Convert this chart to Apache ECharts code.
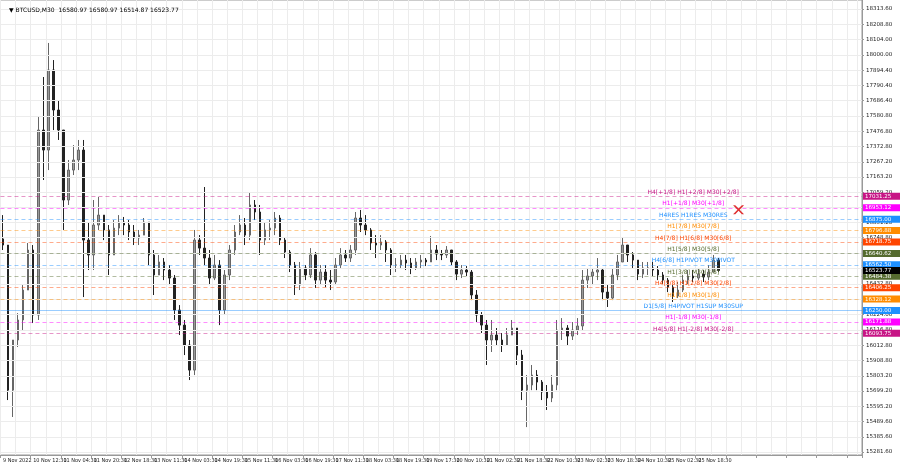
<!DOCTYPE html>
<html><head><meta charset="utf-8">
<script src="https://cdn.jsdelivr.net/npm/echarts@6/dist/echarts.min.js"></script>
<style>html,body{margin:0;padding:0;background:#fff}#c{width:900px;height:468px}</style>
</head><body><div id="c"></div>
<script>
const xLabels = ["9 Nov 2022","10 Nov 12:30","11 Nov 04:30","11 Nov 20:30","12 Nov 18:30","13 Nov 11:30","14 Nov 03:30","14 Nov 19:30","15 Nov 11:30","16 Nov 03:30","16 Nov 19:30","17 Nov 11:30","18 Nov 03:30","18 Nov 19:30","19 Nov 17:30","20 Nov 10:30","21 Nov 02:30","21 Nov 18:30","22 Nov 10:30","23 Nov 02:30","23 Nov 18:30","24 Nov 10:30","25 Nov 02:30","25 Nov 18:30"];
const yTicks = [18313.60,18208.80,18104.00,18000.00,17894.40,17790.40,17686.40,17580.80,17476.80,17372.80,17267.20,17163.20,17059.20,16955.20,16851.20,16748.80,16643.20,16539.20,16432.80,16328.80,16224.00,16116.80,16012.80,15908.80,15803.20,15699.20,15595.20,15489.60,15385.60,15281.60];
const firstOpen = 16740;
const high = [16903,16698,15705,16232,16424,16712,16698,17574,17848,18081,17964,17690,17485,17280,17382,17417,17417,16849,17006,17027,16903,16835,16869,16903,16890,16869,16835,16801,16883,16855,16664,16630,16609,16561,16493,16287,16185,16048,16801,16766,17095,16664,16630,16595,16527,16698,16835,16903,16883,17054,17006,16972,16855,16869,16924,16903,16746,16664,16582,16582,16561,16677,16650,16561,16561,16527,16609,16677,16664,16698,16924,16938,16903,16814,16766,16766,16732,16677,16609,16630,16630,16609,16609,16630,16609,16760,16698,16664,16691,16664,16595,16561,16554,16527,16390,16239,16185,16185,16130,16096,16130,16185,16130,15980,15808,15877,15842,15774,15740,15808,16185,16198,16150,16171,16198,16527,16541,16541,16609,16541,16424,16541,16630,16746,16698,16650,16595,16582,16582,16582,16554,16513,16472,16424,16445,16493,16527,16527,16541,16527,16561,16630,16609];
const low = [16664,15637,15521,16000,16116,16390,16164,16185,17143,17211,17485,17417,16801,16972,17177,17211,16342,16527,16527,16801,16732,16493,16630,16766,16766,16732,16698,16698,16766,16561,16356,16493,16458,16424,16185,16082,15945,15774,15808,16630,16561,16424,16458,16150,16219,16458,16630,16766,16698,16732,16869,16630,16698,16732,16766,16698,16609,16513,16356,16390,16458,16472,16404,16424,16410,16390,16424,16541,16582,16582,16630,16787,16766,16664,16609,16664,16582,16493,16513,16541,16527,16499,16527,16541,16554,16582,16595,16595,16609,16561,16458,16472,16486,16321,16171,16096,15877,15966,16013,15966,16013,16082,15877,15637,15452,15705,15705,15637,15569,15623,15705,16048,16013,16048,16082,16116,16404,16424,16458,16321,16274,16321,16458,16582,16582,16541,16458,16472,16493,16486,16458,16424,16376,16308,16335,16376,16431,16445,16458,16445,16458,16513,16513];
const close = [16698,15705,16048,16185,16390,16664,16219,17485,17348,17896,17622,17485,17006,17211,17280,17348,16732,16630,16835,16903,16801,16630,16814,16855,16835,16787,16746,16766,16855,16630,16493,16582,16527,16472,16253,16150,16013,15842,16732,16677,16609,16472,16561,16253,16493,16664,16787,16835,16766,16972,16924,16732,16801,16814,16883,16732,16650,16561,16424,16541,16493,16630,16458,16513,16458,16445,16561,16630,16609,16664,16883,16835,16801,16712,16698,16719,16664,16561,16561,16595,16575,16541,16582,16595,16582,16664,16636,16630,16664,16582,16499,16527,16513,16356,16219,16150,16048,16082,16048,16013,16082,16130,15945,15705,15740,15808,15760,15692,15651,15740,16116,16130,16075,16116,16144,16458,16486,16513,16527,16376,16335,16493,16582,16698,16630,16595,16499,16541,16541,16527,16493,16458,16410,16349,16390,16458,16486,16472,16499,16479,16513,16595,16523.77];
const levelValues = [17031.25,16953.12,16875.00,16796.88,16718.75,16640.62,16562.50,16484.38,16406.25,16328.12,16250.00,16171.88,16093.75];
const levelTexts = ["H4[+1/8] H1[+2/8] M30[+2/8]","H1[+1/8] M30[+1/8]","H4RES H1RES M30RES","H1[7/8] M30[7/8]","H4[7/8] H1[6/8] M30[6/8]","H1[5/8] M30[5/8]","H4[6/8] H1PIVOT M30PIVOT","H1[3/8] M30[3/8]","H4[5/8] H1[2/8] M30[2/8]","H1[1/8] M30[1/8]","D1[5/8] H4PIVOT H1SUP M30SUP","H1[-1/8] M30[-1/8]","H4[5/8] H1[-2/8] M30[-2/8]"];
const levelColors = ["#C71585","#FF00FF","#1E90FF","#FF8C00","#FF4500","#556B2F","#1E90FF","#556B2F","#FF4500","#FF8C00","#1E90FF","#FF00FF","#C71585"];
const lastPrice = 16523.77;
const header = "▼ BTCUSD,M30  16580.97 16580.97 16514.87 16523.77";

function fade(hex,a){const n=parseInt(hex.slice(1),16);return `rgba(${n>>16},${(n>>8)&255},${n&255},${a})`;}
const N = 171;
const cats = Array.from({length:N},(_,i)=>String(i));
const ohlc = close.map((c,i)=>{
  const o = i===0?firstOpen:close[i-1];
  return [o,c,Math.min(low[i],o,c),Math.max(high[i],o,c)];
});
const FF = 'DejaVu Sans';
const NF = '"Liberation Sans Narrow","DejaVu Sans Condensed","Liberation Sans",sans-serif';
const chart = echarts.init(document.getElementById('c'));
const priceLabel = (txt,bg)=>({show:true,position:'end',distance:1,formatter:txt,color:'#fff',backgroundColor:bg,padding:[1,2,0,2],fontSize:5.5,fontFamily:FF,width:33});
const lvlLines = levelValues.map((v,i)=>({
  yAxis:v,
  lineStyle:{color:fade(levelColors[i],0.45),type:i===10?'solid':[4,3],width:1},
  label:priceLabel(v.toFixed(2),levelColors[i])
}));
lvlLines.push({yAxis:lastPrice,lineStyle:{color:'rgba(0,0,0,0)',width:0},label:priceLabel(lastPrice.toFixed(2),'#000')});
const textLines = levelValues.map((v,i)=>[
  {coord:['131',v],lineStyle:{color:'rgba(0,0,0,0)',width:0},label:{show:true,position:'insideMiddleTop',formatter:levelTexts[i],color:levelColors[i],fontSize:6,distance:1,fontFamily:FF}},
  {coord:['143',v]}
]);
const gridLines = yTicks.map(v=>({yAxis:v,lineStyle:{color:'#ececec',type:'solid',width:1},label:{show:false}}));
chart.setOption({
  animation:false,
  title:{text:header,left:4,top:2,textStyle:{fontSize:6,fontWeight:'normal',color:'#000',fontFamily:FF}},
  grid:{left:0,top:0,right:38,bottom:13,show:true,borderColor:'#999',borderWidth:1},
  xAxis:{type:'category',data:cats,boundaryGap:true,
    axisLine:{lineStyle:{color:'#999'}},
    axisTick:{show:true,interval:i=>i%6===0,lineStyle:{color:'#999'},length:3},
    splitLine:{show:true,interval:2,lineStyle:{color:'#ececec'}},
    axisLabel:{interval:0,align:'left',margin:3,fontSize:5.5,color:'#222',fontFamily:NF,hideOverlap:false,
      formatter:(v,i)=> i%6===0 && xLabels[i/6]!==undefined ? xLabels[i/6] : ''}},
  yAxis:{type:'value',position:'right',min:15261,max:18375,scale:true,
    axisLine:{show:true,lineStyle:{color:'#999'}},splitLine:{show:false},
    axisTick:{show:true,customValues:yTicks,length:2,lineStyle:{color:'#999'}},
    axisLabel:{customValues:yTicks,formatter:v=>v.toFixed(2),fontSize:5.5,color:'#222',margin:4,fontFamily:FF}},
  series:[
    {type:'line',data:[],silent:true,markLine:{symbol:'none',silent:true,data:gridLines}},
    {type:'candlestick',data:ohlc,barMaxWidth:2,
      itemStyle:{color:'#9a9a9a',color0:'#222',borderColor:'#666',borderColor0:'#222',borderWidth:1},
      markLine:{symbol:'none',silent:true,data:lvlLines.concat(textLines)},
      markPoint:{symbol:'path://M0,0L2,0L5,3L8,0L10,0L6,4L10,8L8,8L5,5L2,8L0,8L4,4Z',symbolSize:[11,9],
        itemStyle:{color:'#E03030'},label:{show:false},data:[{coord:['146',16940]}]}}
  ]
});
</script></body></html>
